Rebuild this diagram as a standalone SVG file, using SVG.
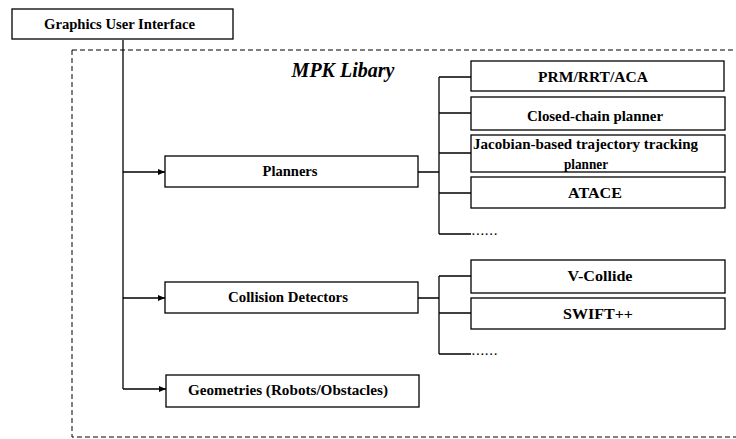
<svg xmlns="http://www.w3.org/2000/svg" width="736" height="439" viewBox="0 0 736 439">
<style>
.box{fill:#fff;stroke:#000;stroke-width:1.3}
.ln{fill:none;stroke:#000;stroke-width:1.3}
.dash{fill:none;stroke:#000;stroke-width:1;stroke-dasharray:5,3}
text{font-family:"Liberation Serif","Times New Roman",serif;fill:#000;text-anchor:middle;font-size:14px}
.b{font-weight:bold}
.dots{text-anchor:start;font-size:11px}
</style>
<defs>
<marker id="arr" markerWidth="8" markerHeight="8" refX="7" refY="4" orient="auto" markerUnits="userSpaceOnUse">
<path d="M0,1 L7,4 L0,7 Z" fill="#000"/>
</marker>
</defs>
<rect width="736" height="439" fill="#fff"/>
<g id="library-frame">
<path class="dash" d="M72,50 H736 M72,50 V437 H736"/>
<text x="343" y="77" class="b" font-style="italic" style="font-size:20px">MPK Libary</text>
</g>
<g id="connectors">
<path class="ln" d="M123,40 V389"/>
<path class="ln" d="M123,172 H165" marker-end="url(#arr)"/>
<path class="ln" d="M123,298 H165" marker-end="url(#arr)"/>
<path class="ln" d="M123,389 H166" marker-end="url(#arr)"/>
<path class="ln" d="M418,172 H439 M439,77 V234 M439,77 H471 M439,113 H471 M439,153 H471 M439,193 H471 M439,234 H471"/>
<path class="ln" d="M418,298 H439 M439,276 V354 M439,276 H471 M439,313 H471 M439,354 H471"/>
</g>
<g id="gui"><rect class="box" x="12" y="9" width="221" height="30"/><text x="119.5" y="29" class="b" textLength="151" lengthAdjust="spacingAndGlyphs">Graphics User Interface</text></g>
<g id="planners"><rect class="box" x="165" y="156" width="253" height="31"/><text x="290" y="176" class="b" textLength="55" lengthAdjust="spacingAndGlyphs">Planners</text></g>
<g id="collision"><rect class="box" x="165" y="282" width="253" height="31"/><text x="288" y="302" class="b" textLength="120" lengthAdjust="spacingAndGlyphs">Collision Detectors</text></g>
<g id="geometries"><rect class="box" x="166" y="375" width="253" height="32"/><text x="288" y="395" class="b" textLength="200" lengthAdjust="spacingAndGlyphs">Geometries (Robots/Obstacles)</text></g>
<g id="prm"><rect class="box" x="471" y="61" width="253" height="30"/><text x="593" y="82" class="b" textLength="110" lengthAdjust="spacingAndGlyphs">PRM/RRT/ACA</text></g>
<g id="closed"><rect class="box" x="471" y="97" width="254" height="33"/><text x="595" y="121" class="b" textLength="136" lengthAdjust="spacingAndGlyphs">Closed-chain planner</text></g>
<g id="jacobian"><rect class="box" x="471" y="135" width="254" height="37"/><text x="585.5" y="149" class="b" textLength="225" lengthAdjust="spacingAndGlyphs">Jacobian-based trajectory tracking</text><text x="586" y="169" class="b" textLength="44" lengthAdjust="spacingAndGlyphs">planner</text></g>
<g id="atace"><rect class="box" x="471" y="177" width="254" height="31"/><text x="595" y="198" class="b" textLength="54" lengthAdjust="spacingAndGlyphs">ATACE</text></g>
<g id="planners-more"><text x="472" y="235" class="b dots" textLength="25" lengthAdjust="spacing">......</text></g>
<g id="vcollide"><rect class="box" x="471" y="260" width="254" height="33"/><text x="600" y="281" class="b" textLength="65" lengthAdjust="spacingAndGlyphs">V-Collide</text></g>
<g id="swift"><rect class="box" x="471" y="298" width="254" height="31"/><text x="598" y="319" class="b" textLength="70" lengthAdjust="spacingAndGlyphs">SWIFT++</text></g>
<g id="collision-more"><text x="472" y="355" class="b dots" textLength="25" lengthAdjust="spacing">......</text></g>
</svg>
